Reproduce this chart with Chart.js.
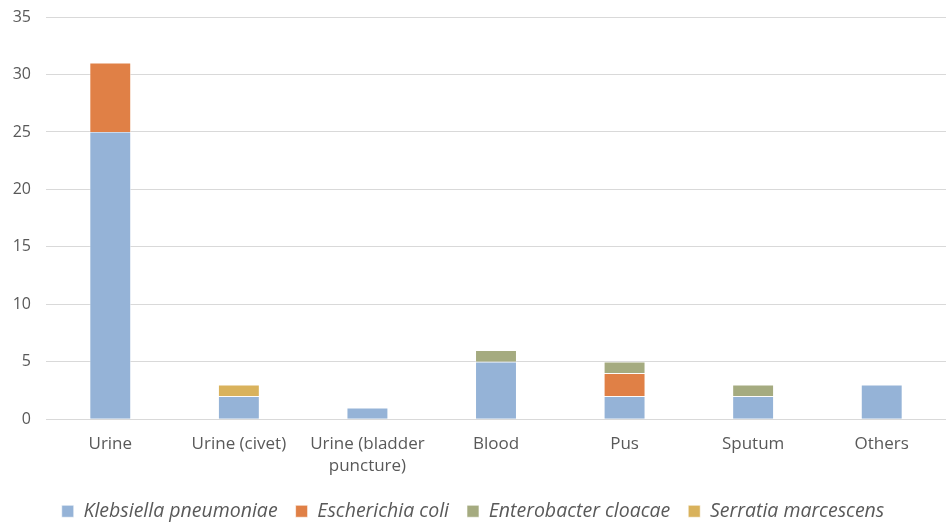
<!DOCTYPE html>
<html>
<head>
<meta charset="utf-8">
<script src="https://cdn.jsdelivr.net/npm/chart.js@4"></script>
<style>
  html, body { margin: 0; padding: 0; background: #fff; }
  #wrap { width: 946px; height: 522px; }
</style>
</head>
<body>
<div id="wrap"><canvas id="barchart"></canvas></div>
<script>
const categories = ['Urine', 'Urine (civet)', ['Urine (bladder', 'puncture)'], 'Blood', 'Pus', 'Sputum', 'Others'];
const klebsiella = [25, 2, 1, 5, 2, 2, 3];
const ecoli = [6, 0, 0, 0, 2, 0, 0];
const enterobacter = [0, 0, 0, 1, 1, 1, 0];
const serratia = [0, 1, 0, 0, 0, 0, 0];
const yTicks = [0, 5, 10, 15, 20, 25, 30, 35];

document.addEventListener('DOMContentLoaded', function () {
    const ctx = document.getElementById('barchart');
    const fontFamily = "'Open Sans', 'Liberation Sans', sans-serif";

    function series(label, data, color) {
        return {
            label: label,
            data: data,
            backgroundColor: color,
            borderColor: '#ffffff',
            borderWidth: 0.6,
            barPercentage: 0.32,
            categoryPercentage: 1.0
        };
    }

    new Chart(ctx, {
        type: 'bar',
        data: {
            labels: categories,
            datasets: [
                series('Klebsiella pneumoniae', klebsiella, '#95b3d7'),
                series('Escherichia coli', ecoli, '#e08046'),
                series('Enterobacter cloacae', enterobacter, '#a5ab80'),
                series('Serratia marcescens', serratia, '#d9b25c')
            ]
        },
        options: {
            responsive: true,
            maintainAspectRatio: false,
            animation: false,
            layout: { padding: { top: 17, right: 0, bottom: -9, left: 0 } },
            scales: {
                x: {
                    stacked: true,
                    grid: { display: false },
                    border: { color: '#d9d9d9', width: 1 },
                    ticks: {
                        color: '#595959',
                        font: { family: fontFamily, size: 17, lineHeight: 1.3 },
                        padding: 6,
                        maxRotation: 0,
                        autoSkip: false
                    }
                },
                y: {
                    stacked: true,
                    min: 0,
                    max: 35,
                    afterBuildTicks: function (axis) {
                        axis.ticks = yTicks.map(v => ({ value: v }));
                    },
                    afterFit: function (axis) {
                        // fixed gutter for the value labels, no extra vertical padding
                        axis.width = 46;
                        axis.paddingTop = 10;
                        axis.paddingBottom = 10;
                    },
                    grid: { color: '#d9d9d9', lineWidth: 1, drawTicks: false },
                    border: { display: false },
                    ticks: {
                        color: '#595959',
                        font: { family: fontFamily, size: 16 },
                        padding: 15
                    }
                }
            },
            plugins: {
                legend: {
                    display: true,
                    position: 'bottom',
                    labels: {
                        color: '#595959',
                        font: { family: fontFamily, size: 19.5, style: 'italic' },
                        boxWidth: 12,
                        boxHeight: 12,
                        padding: 18,
                        useBorderRadius: false
                    }
                },
                tooltip: { enabled: false }
            }
        }
    });
});
</script>
</body>
</html>
